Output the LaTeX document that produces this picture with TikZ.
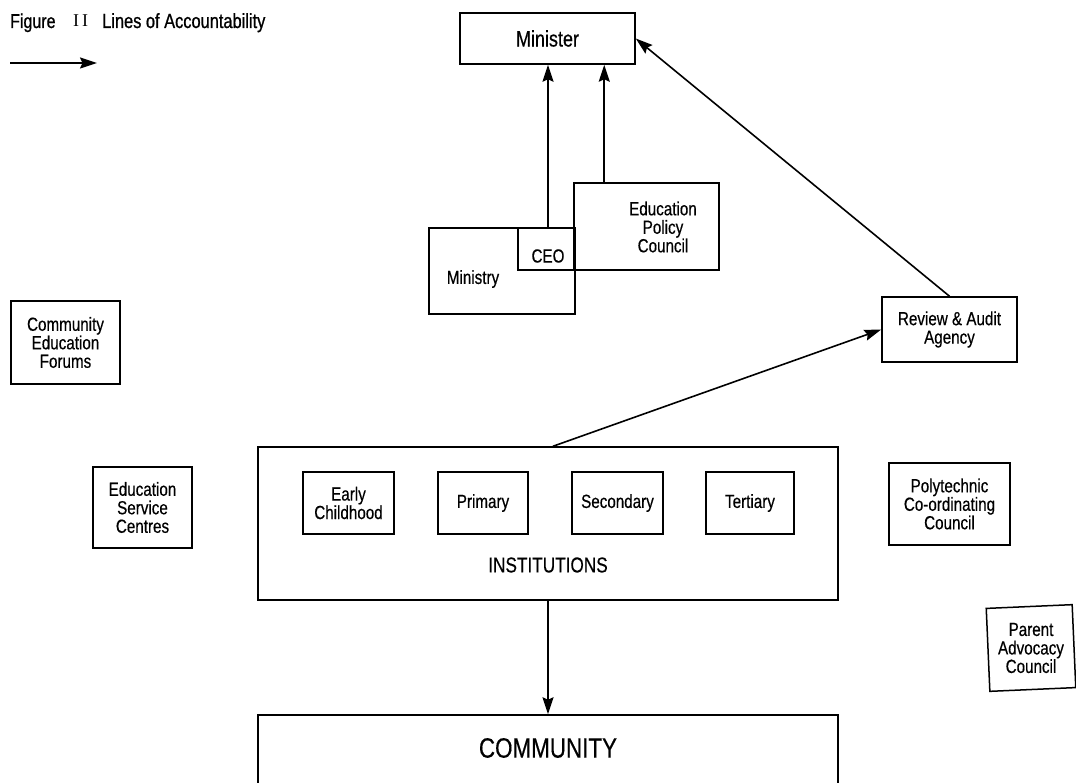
\documentclass[tikz,border=0pt]{standalone}
\usepackage{fontspec}
\setmainfont[FakeStretch=0.8,FakeBold=0.4]{Liberation Sans}
\newfontfamily\ttlfont[FakeStretch=0.8,FakeBold=0.8]{Liberation Sans}
\newfontfamily\iifont{Liberation Serif}
\usetikzlibrary{arrows.meta}
\newcommand\fsz[1]{\fontsize{#1}{18.5}\selectfont}
\begin{document}
\begin{tikzpicture}[x=1pt,y=-1pt,
  box/.style={draw, line width=1.5pt, rectangle, inner sep=0pt, align=center, font=\fsz{19}},
  lbl/.style={inner sep=0pt, align=center, font=\fsz{19}},
  acc/.style={-{Stealth[length=17pt,width=11pt,inset=2.5pt]}, line width=1.6pt},
  ttl/.style={inner sep=0pt, anchor=base west}]
\useasboundingbox (0,0) rectangle (1076,783);
\clip (0,0) rectangle (1076,783);
\fill[white] (0,0) rectangle (1076,783);

% title and legend
\node[ttl, font=\ttlfont\fontsize{20}{20}\selectfont] (fig) at (10,28) {Figure};
\node[ttl, font=\iifont\fontsize{18}{18}\selectfont] (fignum) at (73,27) {I\,I};
\node[ttl, font=\ttlfont\fontsize{20.5}{20}\selectfont] (figtitle) at (102,28) {Lines of Accountability};
\coordinate (legA) at (10,63);
\coordinate (legB) at (97,63);
\draw[acc] (legA) -- (legB);

% top
\node[box, minimum width=175pt, minimum height=51pt, font=\fsz{22.5}] (minister) at (547.5,38.5) {Minister};
\node[box, minimum width=146pt, minimum height=86pt] (ministry) at (502,271) {};
\node[lbl] (ministrytxt) at (473,279) {Ministry};
\node[box, minimum width=145pt, minimum height=87pt] (epc) at (646.5,226.5) {};
\node[lbl] (epctxt) at (663,227) {Education\\Policy\\Council};
\node[box, minimum width=57pt, minimum height=42pt] (ceo) at (546.5,249) {};
\node[lbl] (ceotxt) at (548,256) {CEO};

\node[box, minimum width=135pt, minimum height=65pt] (ra) at (949.5,329.5) {Review \& Audit\\Agency};
\node[box, minimum width=109pt, minimum height=83pt] (cef) at (65.5,342.5) {Community\\Education\\Forums};
\node[box, minimum width=99pt, minimum height=81pt] (esc) at (142.5,507.5) {Education\\Service\\Centres};
\node[box, minimum width=121pt, minimum height=82pt] (poly) at (949.5,504) {Polytechnic\\Co-ordinating\\Council};
\node[box, minimum width=86pt, minimum height=83pt, rotate=2.5] (pac) at (1031,648) {};
\node[lbl] (pactxt) at (1031,648) {Parent\\Advocacy\\Council};

% institutions
\node[box, minimum width=580pt, minimum height=153pt] (inst) at (548,523.5) {};
\node[lbl, font=\fsz{21.5}] (insttxt) at (548,565) {INSTITUTIONS};
\node[box, minimum width=91pt, minimum height=62pt] (early) at (348.5,503) {Early\\Childhood};
\node[box, minimum width=90pt, minimum height=62pt] (primary) at (483,503) {Primary};
\node[box, minimum width=91pt, minimum height=62pt] (secondary) at (617.5,503) {Secondary};
\node[box, minimum width=88pt, minimum height=62pt] (tertiary) at (750,503) {Tertiary};

% community
\node[box, minimum width=580pt, minimum height=110pt] (comm) at (548,770) {};
\node[lbl, font=\fsz{28}] (commtxt) at (548,748) {COMMUNITY};

% connectors
\coordinate (ceotop) at ([xshift=1.5pt]ceo.north);
\draw[acc] (ceotop) -- (ceotop |- minister.south);
\coordinate (epctop) at ([xshift=31pt]epc.north west);
\draw[acc] (epctop) -- (epctop |- minister.south);
\draw[acc] (ra.north) -- (minister.east);
\draw[acc] ([xshift=5pt]inst.north) -- (ra.west);
\draw[acc] (inst.south) -- (comm.north);
\end{tikzpicture}
\end{document}
